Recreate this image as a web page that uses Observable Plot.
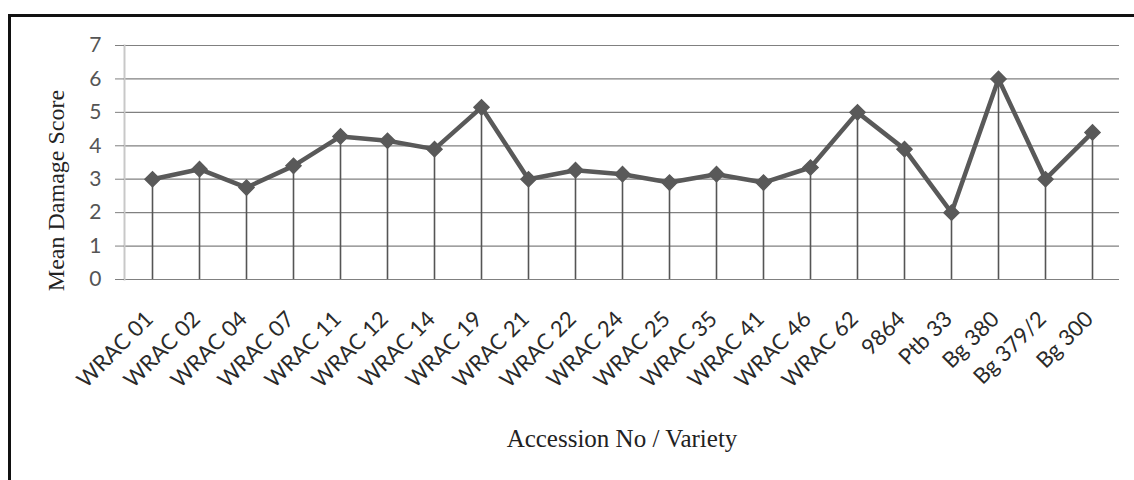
<!DOCTYPE html>
<html>
<head>
<meta charset="utf-8">
<script src="https://cdn.jsdelivr.net/npm/d3@7"></script>
<script src="https://cdn.jsdelivr.net/npm/@observablehq/plot@0.6"></script>
<style>
  html, body { margin: 0; padding: 0; background: #fff; }
  #wrap { position: relative; width: 1134px; height: 480px; overflow: hidden; }
  #frame { position: absolute; left: 8px; top: 14px; width: 1140px; height: 480px;
           border-left: 3px solid #111; border-top: 3px solid #111; pointer-events: none; }
</style>
</head>
<body>
<div id="wrap"><div id="frame"></div></div>
<script>
const accessions = ["WRAC 01","WRAC 02","WRAC 04","WRAC 07","WRAC 11","WRAC 12","WRAC 14","WRAC 19",
  "WRAC 21","WRAC 22","WRAC 24","WRAC 25","WRAC 35","WRAC 41","WRAC 46","WRAC 62",
  "9864","Ptb 33","Bg 380","Bg 379/2","Bg 300"];
const meanDamage = [3.0, 3.3, 2.75, 3.4, 4.28, 4.15, 3.9, 5.15, 3.0, 3.27, 3.15, 2.9, 3.15, 2.9, 3.35, 5.0, 3.9, 2.0, 6.0, 3.0, 4.4];
const yTicks = [0, 1, 2, 3, 4, 5, 6, 7];
const yTitle = "Mean Damage Score";
const xTitle = "Accession No / Variety";

const data = accessions.map((name, i) => ({name, v: meanDamage[i]}));
const tickFont = "Lato, 'Open Sans', sans-serif";
const serif = "'Liberation Serif', 'DejaVu Serif', serif";

const chart = Plot.plot({
  width: 1134,
  height: 480,
  marginLeft: 124,
  marginRight: 15,
  marginTop: 45,
  marginBottom: 201,
  style: {background: "transparent", overflow: "visible"},
  x: {type: "point", domain: accessions, padding: 0.5},
  y: {domain: [0, 7]},
  marks: [
    Plot.gridY(yTicks, {stroke: "#808080", strokeOpacity: 1, strokeWidth: 1.2}),
    Plot.frame({anchor: "left", stroke: "#c8c8c8", strokeWidth: 2}),
    Plot.axisY(yTicks, {tickSize: 9, tickPadding: 14, stroke: "#808080", fontSize: 21, fontFamily: tickFont, fill: "#555", label: null}),
    Plot.axisX({tickSize: 0, tickPadding: 36, dx: -3, tickRotate: -45, fontSize: 22, fontFamily: tickFont, fill: "#2a2a2a", label: null}),
    Plot.ruleX(data, {x: "name", y1: 0, y2: "v", stroke: "#555", strokeWidth: 1.6}),
    Plot.line(data, {x: "name", y: "v", stroke: "#595959", strokeWidth: 4.5}),
    Plot.dot(data, {x: "name", y: "v", symbol: "square", rotate: 45, r: 6, fill: "#595959", stroke: "#595959"}),
    Plot.text([yTitle], {frameAnchor: "left", textAnchor: "middle", dx: -68, dy: 28, rotate: -90, fontSize: 24, fontFamily: serif, fill: "#222"}),
    Plot.text([xTitle], {frameAnchor: "bottom", dy: 167, fontSize: 25, fontFamily: serif, fill: "#222"})
  ]
});
document.getElementById("wrap").prepend(chart);
</script>
</body>
</html>
